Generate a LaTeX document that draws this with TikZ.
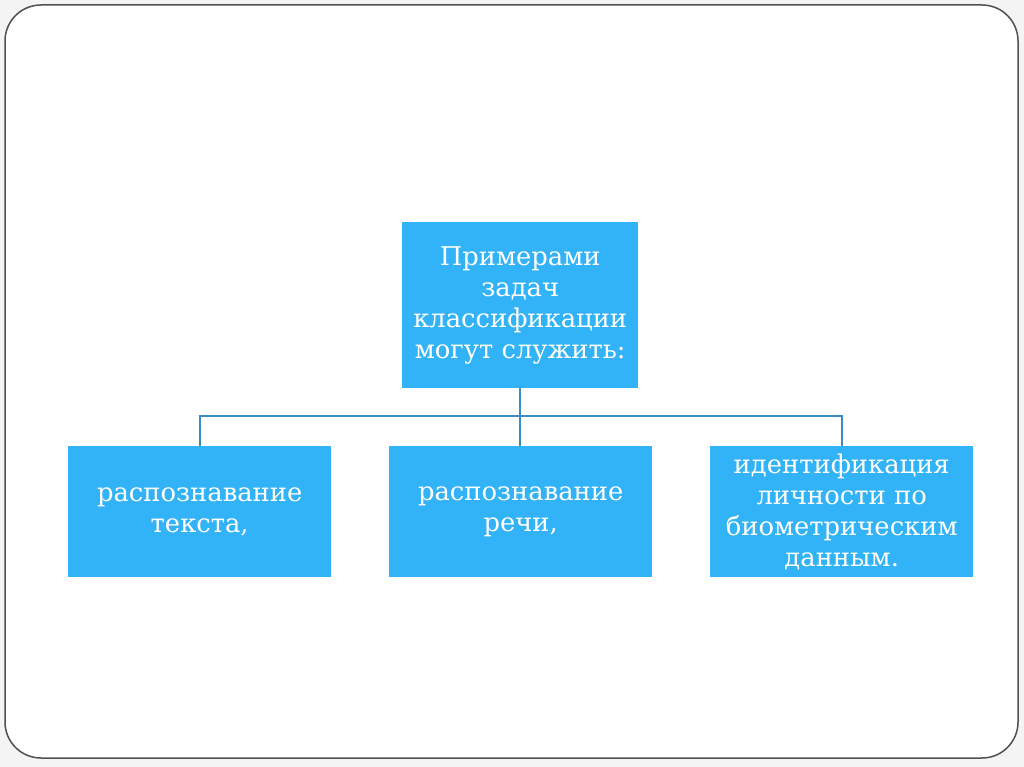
\documentclass[tikz,border=0pt]{standalone}
\usepackage{fontspec}
\setmainfont{DejaVu Serif}
\definecolor{boxblue}{HTML}{33B3F7}
\definecolor{linkblue}{HTML}{3A8DC4}
\definecolor{framegray}{HTML}{505050}
\definecolor{pagegray}{HTML}{F4F4F4}
\begin{document}
\begin{tikzpicture}[x=1pt,y=-1pt,
  box/.style={fill=boxblue, draw=none, text=white, align=center, anchor=north west,
    font=\fontsize{25.8}{31}\selectfont, inner sep=0pt},
  link/.style={draw=linkblue, line width=1.8pt}]
\fill[pagegray] (0,0) rectangle (1024,767);
\useasboundingbox (0,0) rectangle (1024,767);
\draw[framegray, line width=1.5pt, fill=white, rounded corners=36pt] (5,5) rectangle (1018,758);
\node[box, minimum width=236pt, minimum height=166pt] (top) at (402,222) {Примерами\\задач\\классификации\\могут служить:};
\node[box, minimum width=263pt, minimum height=131pt] (b1) at (68,446) {распознавание\\текста,};
\node[box, minimum width=263pt, minimum height=131pt] (b2) at (389,446) {распознавание\\речи,};
\node[box, minimum width=263pt, minimum height=131pt] (b3) at (710,446) {идентификация\\личности по\\биометрическим\\данным.};
\coordinate (bus) at (top.south |- 0,416);
\draw[link] (top.south) -- (bus);
\draw[link] (b1.north) |- (bus) -| (b3.north);
\draw[link] (bus) -- (bus |- b2.north);
\end{tikzpicture}
\end{document}
